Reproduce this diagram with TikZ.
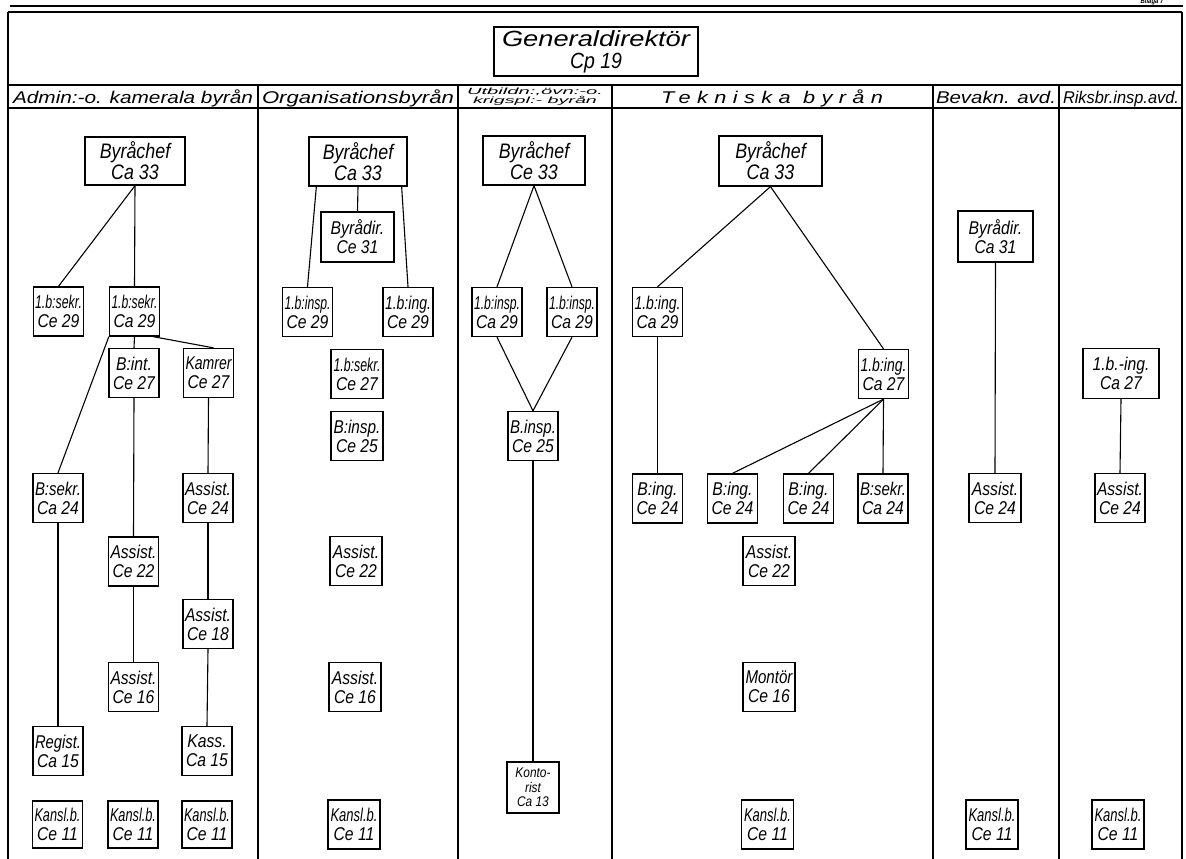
\documentclass[tikz,border=0pt]{standalone}
\usepackage{fontspec}
\usepackage{graphicx}
\newfontfamily\lett{Liberation Sans}[FakeStretch=0.85]
\newsavebox\fitbx
\newcommand\fitw[2]{\sbox\fitbx{#2}\pgfmathsetmacro\fitr{min(1,(#1)/(\the\wd\fitbx))}\scalebox{\fitr}[1]{\usebox\fitbx}}
\newcommand\setw[2]{\sbox\fitbx{#2}\pgfmathsetmacro\fitr{(#1)/(\the\wd\fitbx)}\scalebox{\fitr}[1]{\usebox\fitbx}}
\newcommand\twol[3]{\fitw{#1}{#2}\\\fitw{#1}{#3}}
\tikzset{
  postbox/.style={draw, line width=1.3pt, inner sep=0pt, minimum width=50pt, minimum height=49pt,
    align=center, font=\lett\itshape\fontsize{18.5}{19}\selectfont},
  bigbox/.style={postbox, font=\lett\itshape\fontsize{21}{21}\selectfont},
  link/.style={line width=1.1pt},
  rule/.style={line width=1.6pt},
  dept/.style={inner sep=0pt, anchor=base, font=\lett\itshape\fontsize{17}{17}\selectfont}
}
\begin{document}
\begin{tikzpicture}[x=1pt,y=-1pt]
\useasboundingbox (0,0) rectangle (1186,859);
% frame
\draw[rule] (10,6) -- (1183,6);
\draw[rule] (8,12) -- (1182,12);
\draw[rule] (8,12) -- (8,859);
\draw[rule] (1182,12) -- (1182,859);
\draw[rule] (8,85) -- (1182,85);
\draw[rule] (8,108) -- (1182,108);
\foreach \x in {258,458,612,933,1059} \draw[rule] (\x,85) -- (\x,859);
\node[font=\lett\itshape\bfseries\fontsize{7}{7}\selectfont, anchor=base, inner sep=0pt] (bil) at (1152,4) {Bilaga 7};
% header
\node[bigbox, minimum width=204pt, minimum height=49pt, font=\lett\itshape\fontsize{22}{22}\selectfont] (gd) at (596,51.5) {\setw{188pt}{Generaldirektör}\\\setw{52pt}{Cp 19}};
\node[dept] (d1) at (133,103) {\setw{240pt}{Admin:-o. kamerala byrån}};
\node[dept] (d2) at (358,103) {\setw{192pt}{Organisationsbyrån}};
\node[dept, anchor=center, align=center, font=\lett\itshape\fontsize{9}{9.5}\selectfont] (d3) at (535,96.5) {\setw{136pt}{Utbildn:,övn:-o.}\\\setw{124pt}{krigspl:- byrån}};
\node[dept] (d4) at (772,103) {\addfontfeature{LetterSpace=25}\setw{222pt}{Tekniska byrån}};
\node[dept] (d5) at (996,103) {\setw{120pt}{Bevakn. avd.}};
\node[dept] (d6) at (1121,103) {\setw{116pt}{Riksbr.insp.avd.}};
% column 1
\node[bigbox, minimum width=100pt, minimum height=48pt] (c1boss) at (135,161) {\twol{94pt}{Byråchef}{Ca 33}};
\node[postbox] (c1a) at (58.5,311.5) {\twol{47pt}{1.b:sekr.}{Ce 29}};
\node[postbox] (c1b) at (134.5,311.5) {\twol{46pt}{1.b:sekr.}{Ca 29}};
\node[postbox] (c1c) at (134,373) {\twol{45pt}{B:int.}{Ce 27}};
\node[postbox] (c1d) at (208.5,373) {\twol{46pt}{Kamrer}{Ce 27}};
\node[postbox] (c1e) at (58,498) {\twol{46pt}{B:sekr.}{Ca 24}};
\node[postbox] (c1f) at (208,498) {\twol{46pt}{Assist.}{Ce 24}};
\node[postbox] (c1g) at (133.5,561.5) {\twol{46pt}{Assist.}{Ce 22}};
\node[postbox] (c1h) at (208,624) {\twol{46pt}{Assist.}{Ce 18}};
\node[postbox] (c1i) at (133.5,687) {\twol{46pt}{Assist.}{Ce 16}};
\node[postbox] (c1j) at (58,751) {\twol{46pt}{Regist.}{Ca 15}};
\node[postbox] (c1k) at (207,751) {\twol{46pt}{Kass.}{Ca 15}};
\node[postbox, minimum height=47pt] (c1l) at (57.5,824.5) {\twol{46pt}{Kansl.b.}{Ce 11}};
\node[postbox, minimum height=47pt] (c1m) at (133,824.5) {\twol{46pt}{Kansl.b.}{Ce 11}};
\node[postbox, minimum height=47pt] (c1n) at (207,824.5) {\twol{46pt}{Kansl.b.}{Ce 11}};
% column 2
\node[bigbox, minimum width=98pt] (c2boss) at (358,161.5) {\twol{92pt}{Byråchef}{Ca 33}};
\node[postbox, minimum width=73pt, minimum height=50pt] (c2dir) at (357.5,237) {\twol{68pt}{Byrådir.}{Ce 31}};
\node[postbox] (c2a) at (307.5,312) {\twol{46pt}{1.b:insp.}{Ce 29}};
\node[postbox] (c2b) at (408,312) {\twol{46pt}{1.b:ing.}{Ce 29}};
\node[postbox, minimum width=52pt] (c2c) at (357,374) {\twol{47pt}{1.b:sekr.}{Ce 27}};
\node[postbox, minimum width=52pt] (c2d) at (357,436) {\twol{47pt}{B:insp.}{Ce 25}};
\node[postbox, minimum width=52pt] (c2e) at (356,561) {\twol{47pt}{Assist.}{Ce 22}};
\node[postbox, minimum width=52pt] (c2f) at (355,687) {\twol{47pt}{Assist.}{Ce 16}};
\node[postbox, minimum width=52pt] (c2g) at (354,824.5) {\twol{47pt}{Kansl.b.}{Ce 11}};
% column 3
\node[bigbox, minimum width=102pt] (c3boss) at (534,160.5) {\twol{94pt}{Byråchef}{Ce 33}};
\node[postbox] (c3a) at (497,312) {\twol{46pt}{1.b:insp.}{Ca 29}};
\node[postbox] (c3b) at (572,312) {\twol{46pt}{1.b:insp.}{Ca 29}};
\node[postbox] (c3c) at (533,436) {\twol{46pt}{B.insp.}{Ce 25}};
\node[postbox, minimum width=52pt, minimum height=51pt, font=\lett\itshape\fontsize{14}{14.5}\selectfont] (c3d) at (533,787.5) {\fitw{48pt}{Konto-}\\\fitw{48pt}{rist}\\\fitw{48pt}{Ca 13}};
% column 4
\node[bigbox, minimum width=103pt, minimum height=50pt] (c4boss) at (770.5,161) {\twol{95pt}{Byråchef}{Ca 33}};
\node[postbox] (c4a) at (657.5,312) {\twol{46pt}{1.b:ing.}{Ca 29}};
\node[postbox] (c4b) at (883.5,374) {\twol{46pt}{1.b:ing.}{Ca 27}};
\node[postbox] (c4c) at (657.5,498.5) {\twol{46pt}{B:ing.}{Ce 24}};
\node[postbox] (c4d) at (732.5,498.5) {\twol{46pt}{B:ing.}{Ce 24}};
\node[postbox] (c4e) at (808.5,498.5) {\twol{46pt}{B:ing.}{Ce 24}};
\node[postbox] (c4f) at (883,498.5) {\twol{46pt}{B:sekr.}{Ca 24}};
\node[postbox, minimum width=52pt] (c4g) at (769,561) {\twol{47pt}{Assist.}{Ce 22}};
\node[postbox, minimum width=52pt] (c4h) at (769,687) {\twol{47pt}{Montör}{Ce 16}};
\node[postbox, minimum width=52pt] (c4i) at (767.5,824.5) {\twol{47pt}{Kansl.b.}{Ce 11}};
% column 5
\node[postbox, minimum width=75pt, minimum height=51pt] (c5dir) at (995.5,236.5) {\twol{70pt}{Byrådir.}{Ca 31}};
\node[postbox, minimum width=52pt] (c5a) at (995,498) {\twol{47pt}{Assist.}{Ce 24}};
\node[postbox, minimum width=52pt] (c5b) at (992,824.5) {\twol{47pt}{Kansl.b.}{Ce 11}};
% column 6
\node[postbox, minimum width=76pt, minimum height=50pt] (c6a) at (1121,373.5) {\twol{71pt}{1.b.-ing.}{Ca 27}};
\node[postbox, minimum width=50pt] (c6b) at (1120,498) {\twol{46pt}{Assist.}{Ce 24}};
\node[postbox, minimum width=52pt] (c6c) at (1118,824.5) {\twol{47pt}{Kansl.b.}{Ce 11}};
% connectors column 1
\draw[link] (c1boss.south) -- (c1a.north);
\draw[link] (c1boss.south) -- (c1b.north);
\draw[link] (c1b.south) -- (c1c.north);
\draw[link] ([xshift=-7pt]c1b.south east) -- ([xshift=5pt]c1d.north);
\draw[link] (c1b.south west) -- (c1e.north);
\draw[link] (c1c.south) -- (c1g.north);
\draw[link] (c1d.south) -- (c1f.north);
\draw[link] (c1e.south) -- (c1j.north);
\draw[link] (c1g.south) -- (c1i.north);
\draw[link] (c1f.south) -- (c1h.north);
\draw[link] (c1h.south) -- (c1k.north);
% column 2
\draw[link] (c2boss.south) -- (c2dir.north);
\draw[link] ([xshift=8pt]c2boss.south west) -- (c2a.north);
\draw[link] ([xshift=-6pt]c2boss.south east) -- (c2b.north);
% column 3
\draw[link] (c3boss.south) -- (c3a.north);
\draw[link] (c3boss.south) -- (c3b.north);
\draw[link] (c3a.south) -- (c3c.north);
\draw[link] (c3b.south) -- (c3c.north);
\draw[link] (c3c.south) -- (c3d.north);
% column 4
\draw[link] (c4boss.south) -- (c4a.north);
\draw[link] (c4boss.south) -- (c4b.north);
\draw[link] (c4a.south) -- (c4c.north);
\draw[link] (c4b.south) -- (c4d.north);
\draw[link] (c4b.south) -- (c4e.north);
\draw[link] (c4b.south) -- (c4f.north);
% column 5 and 6
\draw[link] (c5dir.south) -- (c5a.north);
\draw[link] (c6a.south) -- (c6b.north);
\end{tikzpicture}
\end{document}
